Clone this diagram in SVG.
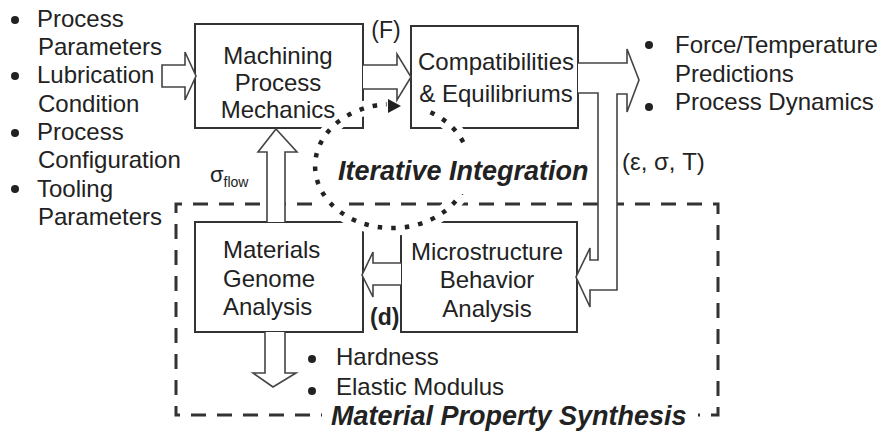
<svg xmlns="http://www.w3.org/2000/svg" width="884" height="438" viewBox="0 0 884 438">
  <defs>
    <style>
      .t { font-family: "Liberation Sans", Arial, sans-serif; font-size: 24px; fill: #222; }
      .mid { text-anchor: middle; }
      .bi { font-weight: bold; font-style: italic; font-size: 27px; }
      .box { fill: #fff; stroke: #333; stroke-width: 2; }
      .hollow { fill: #fff; stroke: #444; stroke-width: 1.6; stroke-linejoin: miter; }
      .dot { fill: #222; }
    </style>
  </defs>
  <rect width="884" height="438" fill="#fff"/>

  <!-- dashed synthesis boundary -->
  <path id="synthesis-frame" d="M176,415 L176,204 L718,204 L718,415 Z" fill="none" stroke="#333" stroke-width="3" stroke-dasharray="15 11" stroke-dashoffset="6"/>

  <!-- process blocks -->
  <g id="machining">
    <rect class="box" x="195" y="24" width="168" height="104"/>
  </g>
  <g id="compatibilities">
    <rect class="box" x="411" y="26" width="167" height="102"/>
  </g>
  <g id="materials-genome">
    <rect class="box" x="195" y="222" width="168" height="110"/>
  </g>
  <g id="microstructure">
    <rect class="box" x="401" y="222" width="176" height="110"/>
  </g>

  <!-- iteration loop: white halo cuts the lines it crosses -->
  <g id="iteration-loop">
    <path d="M430.5,112.3 A77,62 0 1 1 386.6,104.2" fill="none" stroke="#fff" stroke-width="15"/>
    <path d="M430.5,112.3 A77,62 0 1 1 386.6,104.2" fill="none" stroke="#222" stroke-width="4.5" stroke-dasharray="4.5 9"/>
    <polygon points="401,106 388,99 388,113" fill="#222"/>
  </g>

  <!-- connectors -->
  <g id="connectors">
    <path class="hollow" d="M162,65 L185,65 L185,52 L196,76 L185,100 L185,87 L162,87 Z"/>
    <path class="hollow" d="M363,65 L397,65 L397,54 L411,77 L397,100 L397,89 L363,89"/>
    <path class="hollow" d="M578,63 L627,63 L627,49 L639,80 L627,112 L627,94 L617,94 L617,290 L590,290 L590,307 L576,277 L590,248 L590,260 L598,260 L598,93 L578,93"/>
    <path class="hollow" d="M401,263 L373,263 L373,252 L362,275 L373,297 L373,285 L401,285"/>
    <path class="hollow" d="M267,222 L267,152 L258,152 L276,129 L297,152 L285,152 L285,222"/>
    <path class="hollow" d="M265,332 L265,373 L253,373 L273,387 L296,373 L285,373 L285,332"/>
  </g>

  <!-- block labels -->
  <g id="machining-label">
    <text class="t mid" x="278" y="64">Machining</text>
    <text class="t mid" x="278" y="91">Process</text>
    <text class="t mid" x="278" y="118">Mechanics</text>
  </g>
  <g id="compatibilities-label">
    <text class="t mid" x="496" y="70">Compatibilities</text>
    <text class="t mid" x="496" y="102">&amp; Equilibriums</text>
  </g>
  <g id="materials-genome-label">
    <text class="t" x="223" y="258">Materials</text>
    <text class="t" x="223" y="287">Genome</text>
    <text class="t" x="223" y="315">Analysis</text>
  </g>
  <g id="microstructure-label">
    <text class="t mid" x="487" y="260">Microstructure</text>
    <text class="t mid" x="487" y="288">Behavior</text>
    <text class="t mid" x="487" y="317">Analysis</text>
  </g>

  <!-- connector labels -->
  <text class="t mid" x="386" y="38" style="font-size:23px">(F)</text>
  <text class="t" x="370" y="325" style="font-size:23px;font-weight:bold">(d)</text>
  <text class="t" x="622" y="170">(ε, σ, T)</text>
  <text class="t" x="210" y="182" style="font-size:22px">σ<tspan style="font-size:14px" dy="5">flow</tspan></text>

  <!-- inputs -->
  <g id="inputs">
    <circle class="dot" cx="15" cy="20" r="4"/>
    <circle class="dot" cx="15" cy="76" r="4"/>
    <circle class="dot" cx="15" cy="133" r="4"/>
    <circle class="dot" cx="15" cy="189" r="4"/>
    <text class="t" x="37" y="27">Process</text>
    <text class="t" x="38" y="55">Parameters</text>
    <text class="t" x="37" y="83">Lubrication</text>
    <text class="t" x="38" y="112">Condition</text>
    <text class="t" x="37" y="140">Process</text>
    <text class="t" x="38" y="168">Configuration</text>
    <text class="t" x="37" y="197">Tooling</text>
    <text class="t" x="38" y="225">Parameters</text>
  </g>

  <!-- outputs -->
  <g id="outputs">
    <circle class="dot" cx="649" cy="45" r="4"/>
    <circle class="dot" cx="649" cy="107" r="4"/>
    <text class="t" x="675" y="53">Force/Temperature</text>
    <text class="t" x="675" y="82">Predictions</text>
    <text class="t" x="675" y="110">Process Dynamics</text>
  </g>

  <g id="properties">
    <circle class="dot" cx="312" cy="359" r="4"/>
    <circle class="dot" cx="312" cy="391" r="4"/>
    <text class="t" x="336" y="365">Hardness</text>
    <text class="t" x="336" y="395">Elastic Modulus</text>
  </g>

  <!-- section titles -->
  <rect x="442" y="147" width="40" height="47" fill="#fff"/>
  <text class="t bi" x="338" y="180">Iterative Integration</text>
  <rect x="322" y="402" width="376" height="30" fill="#fff"/>
  <text class="t bi" x="331" y="425">Material Property Synthesis</text>
</svg>
